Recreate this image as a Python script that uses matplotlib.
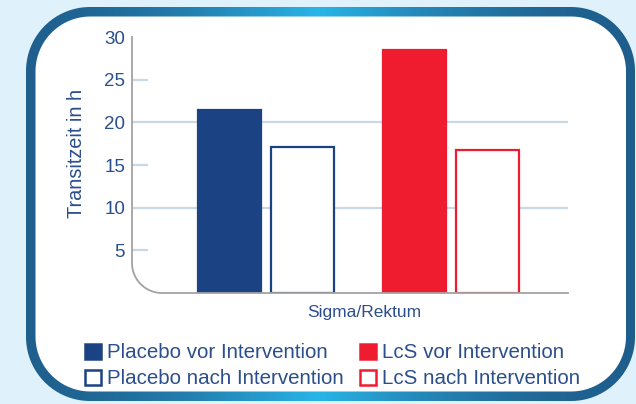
import numpy as np
import matplotlib
matplotlib.use("Agg")
import matplotlib.pyplot as plt
from matplotlib.path import Path
from matplotlib.patches import PathPatch, Rectangle

# data
groups = ["Sigma/Rektum"]
series = ["Placebo vor Intervention", "Placebo nach Intervention",
          "LcS vor Intervention", "LcS nach Intervention"]
values = [21.5, 17.1, 28.5, 16.8]
yticks = [5, 10, 15, 20, 25, 30]
ylabel = "Transitzeit in h"

BLUE = "#1b4282"
RED = "#ee1c2e"
TXT = "#2b4f8c"
BG = "#dff2fb"
GRID = "#c8d8e4"
AXC = "#a3a3a3"

plt.rcParams["font.family"] = ["Liberation Sans", "DejaVu Sans"]

W, H = 636, 404
fig = plt.figure(figsize=(W / 100, H / 100), dpi=100)
fig.patch.set_facecolor(BG)


def fx(x):
    return x / W


def fy(y):
    return 1 - y / H


def rounded_path(x0, y0, x1, y1, r):
    # pixel coords, y downwards; returns Path in figure fraction
    pts = []
    def arc(cx, cy, a0, a1):
        for a in np.linspace(a0, a1, 30):
            pts.append((cx + r * np.cos(a), cy + r * np.sin(a)))
    arc(x0 + r, y0 + r, np.pi, 1.5 * np.pi)
    arc(x1 - r, y0 + r, 1.5 * np.pi, 2 * np.pi)
    arc(x1 - r, y1 - r, 0, 0.5 * np.pi)
    arc(x0 + r, y1 - r, 0.5 * np.pi, np.pi)
    pts = [(fx(a), fy(b)) for a, b in pts]
    pts.append(pts[0])
    return Path(pts, closed=True)


# frame with horizontal gradient
outer = rounded_path(26, 7, 635, 401, 64)
inner = rounded_path(35.5, 16.5, 626, 391.5, 55)
bgax = fig.add_axes([0, 0, 1, 1], zorder=-5)
bgax.set_axis_off()
bgax.set_xlim(0, 1)
bgax.set_ylim(0, 1)
t = np.linspace(0, 1, 400)
grad = 1 - np.abs(t - 0.5) * 2
dark = np.array([0.12, 0.37, 0.55])
light = np.array([0.16, 0.71, 0.91])
cols = dark[None, :] + (light - dark)[None, :] * (grad[:, None] ** 1.8)
img = bgax.imshow(cols[None, :, :], extent=[0, 1, 0, 1], aspect="auto")
clip = PathPatch(outer, transform=fig.transFigure, facecolor="none", edgecolor="none")
fig.add_artist(clip)
img.set_clip_path(clip)
bgax.add_patch(PathPatch(inner, transform=fig.transFigure, facecolor="white",
                         edgecolor="none", zorder=3))

# main axes
ax = fig.add_axes([fx(132), fy(293), fx(568 - 132), (293 - 37) / H])
ax.patch.set_alpha(0)
ax.set_ylim(0, 30)
ax.set_xlim(-0.724, 1.632)
for s in ax.spines.values():
    s.set_visible(False)

offs = [-0.195, 0.195]
centers = [0, 1]
bw = 0.34
face = [BLUE, "white", RED, "white"]
edge = [BLUE, BLUE, RED, RED]
xs = [centers[0] + offs[0], centers[0] + offs[1], centers[1] + offs[0], centers[1] + offs[1]]
for i, v in enumerate(values):
    ax.bar(xs[i], v, width=bw, color=face[i], edgecolor=edge[i],
           linewidth=1.6, zorder=3)

for yv in yticks:
    if yv in (10, 20):
        ax.axhline(yv, color=GRID, lw=1.6, zorder=1)
    elif yv != 30:
        ax.plot([0, 15 / 436], [yv, yv], transform=ax.get_yaxis_transform(),
                color=GRID, lw=1.6, zorder=1)

# axis line with rounded corner
rx, ry = 30 / 436, 30 / 256
a = np.linspace(np.pi, 1.5 * np.pi, 30)
px = [0, 0] + list(rx + rx * np.cos(a)) + [1]
py = [1, ry] + list(ry + ry * np.sin(a)) + [0]
ax.plot(px, py, transform=ax.transAxes, color=AXC, lw=1.3, clip_on=False, zorder=4)

ax.set_yticks(yticks)
ax.set_yticklabels([str(v) for v in yticks])
ax.tick_params(axis="y", length=0, pad=5, labelsize=13.5, labelcolor=TXT)
ax.set_xticks([])
ax.set_ylabel(ylabel, color=TXT, fontsize=14.3)
ax.yaxis.set_label_coords(fx(77 - 132) * W / 436, (293 - 153) / 256)
ax.yaxis.label.set_va("center")

fig.text(fx(364), fy(312), groups[0], color=TXT, fontsize=12.5,
         ha="center", va="center")

# legend
leg_pos = [(85, 351), (85, 377), (360, 351), (360, 377)]
for i, lab in enumerate(series):
    x, y = leg_pos[i]
    r = Rectangle((fx(x), fy(y + 8)), 16 / W, 15.5 / H, transform=fig.transFigure,
                  facecolor=face[i], edgecolor=edge[i], linewidth=1.8)
    fig.add_artist(r)
    fig.text(fx(x + 22), fy(y + 1), lab, color=TXT, fontsize=14.8, ha="left", va="center")

fig.savefig("out.png", dpi=100, facecolor=BG)
